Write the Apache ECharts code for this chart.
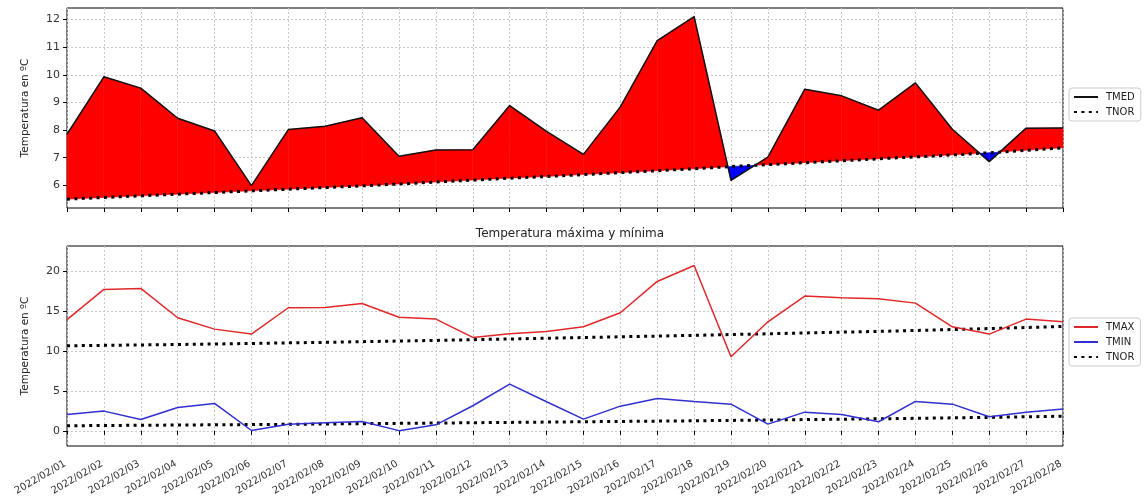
<!DOCTYPE html>
<html>
<head>
<meta charset="utf-8">
<script src="https://cdn.jsdelivr.net/npm/echarts@6/dist/echarts.min.js"></script>
<style>
html,body{margin:0;padding:0;background:#fff;}
#c{width:1144px;height:502px;}
</style>
</head>
<body>
<div id="c"></div>
<script>
const dates = ['2022/02/01','2022/02/02','2022/02/03','2022/02/04','2022/02/05','2022/02/06','2022/02/07','2022/02/08','2022/02/09','2022/02/10','2022/02/11','2022/02/12','2022/02/13','2022/02/14','2022/02/15','2022/02/16','2022/02/17','2022/02/18','2022/02/19','2022/02/20','2022/02/21','2022/02/22','2022/02/23','2022/02/24','2022/02/25','2022/02/26','2022/02/27','2022/02/28'];
const tmed = [7.85,9.93,9.52,8.43,7.97,5.99,8.02,8.14,8.45,7.05,7.28,7.29,8.89,7.95,7.12,8.84,11.24,12.11,6.18,7.02,9.48,9.24,8.72,9.71,8.03,6.86,8.07,8.08];
const tnorMed = [5.50,5.56,5.62,5.68,5.74,5.80,5.86,5.92,5.98,6.05,6.12,6.19,6.26,6.32,6.39,6.46,6.53,6.60,6.68,6.75,6.82,6.89,6.96,7.03,7.10,7.18,7.27,7.36];
const tmax = [13.9,17.67,17.8,14.13,12.71,12.09,15.38,15.42,15.92,14.2,13.96,11.67,12.13,12.42,13.0,14.75,18.67,20.67,9.25,13.63,16.84,16.63,16.5,15.96,13.0,12.09,13.96,13.63];
const tmin = [2.04,2.46,1.42,2.92,3.42,0.04,0.83,1.0,1.17,0.02,0.75,3.13,5.84,3.63,1.46,3.08,4.04,3.67,3.33,0.83,2.33,2.04,1.13,3.67,3.33,1.75,2.33,2.71];
const tnorMax = [10.63,10.68,10.73,10.79,10.85,10.92,10.99,11.06,11.14,11.22,11.30,11.39,11.48,11.57,11.66,11.75,11.84,11.93,12.03,12.13,12.23,12.33,12.43,12.54,12.66,12.78,12.91,13.04];
const tnorMin = [0.63,0.66,0.69,0.72,0.75,0.78,0.81,0.85,0.89,0.93,0.97,1.01,1.05,1.09,1.13,1.17,1.21,1.25,1.30,1.35,1.40,1.45,1.50,1.56,1.62,1.68,1.75,1.82];
const titleText = 'Temperatura máxima y mínima';
const yName = 'Temperatura en ºC';

const FONT = 'DejaVu Sans';
const dotted = {color:'#000', width:3, type:[3,4.4], cap:'butt'};
const grid = {show:true, borderColor:'#000', borderWidth:1, backgroundColor:'transparent'};
function xAxis(idx, showLabels){
  return {
    type:'value', gridIndex:idx, min:0, max:dates.length-1, interval:1,
    axisLine:{show:false},
    axisTick:{show:true, inside:false, length:4, lineStyle:{color:'#000'}},
    axisLabel:{show:showLabels, rotate:30, fontFamily:FONT, fontSize:10, color:'#333', margin:16,
      padding:[0,2,0,0], formatter:v=>dates[v]||''},
    splitLine:{show:true, lineStyle:{color:'#c8c8c8', type:[2,2], width:1}}
  };
}
function yAxis(idx, min, max, split){
  return {
    type:'value', gridIndex:idx, min:min, max:max, splitNumber:split,
    axisLine:{show:false},
    axisTick:{show:true, length:4, lineStyle:{color:'#000'}},
    axisLabel:{fontFamily:FONT, fontSize:11, color:'#333', margin:7, showMinLabel:false, showMaxLabel:false},
    splitLine:{show:true, showMinLine:false, showMaxLine:false, lineStyle:{color:'#c8c8c8', type:[2,2], width:1}},
    name:yName, nameLocation:'middle', nameGap:36, nameRotate:90, nameMoveOverlap:false,
    nameTextStyle:{fontFamily:FONT, fontSize:10.5, color:'#222'}
  };
}

function renderFill(params, api){
  const i = params.dataIndex;
  if (i >= tmed.length-1) return null;
  const a = tmed[i]-tnorMed[i], b = tmed[i+1]-tnorMed[i+1];
  const c = (x,y)=>api.coord([x,y]);
  const shapes = [];
  if (a*b >= 0) {
    const col = (a+b)>=0?'#ff0000':'#0000ff';
    shapes.push({type:'polygon', shape:{points:[c(i,tmed[i]),c(i+1,tmed[i+1]),c(i+1,tnorMed[i+1]),c(i,tnorMed[i])]},
      style:{fill:col, stroke:col, lineWidth:0.5}});
  } else {
    const t = a/(a-b);
    const xc = i+t, yc = tnorMed[i]+t*(tnorMed[i+1]-tnorMed[i]);
    const c1 = a>0?'#ff0000':'#0000ff', c2 = b>0?'#ff0000':'#0000ff';
    shapes.push({type:'polygon', shape:{points:[c(i,tmed[i]),c(xc,yc),c(i,tnorMed[i])]}, style:{fill:c1, stroke:c1, lineWidth:0.5}});
    shapes.push({type:'polygon', shape:{points:[c(xc,yc),c(i+1,tmed[i+1]),c(i+1,tnorMed[i+1])]}, style:{fill:c2, stroke:c2, lineWidth:0.5}});
  }
  return {type:'group', children:shapes};
}

const legendBase = {orient:'vertical', left:1069, itemWidth:24, itemHeight:10, itemGap:5,
  padding:[4,6,4,4], borderColor:'#ccc', borderWidth:1, borderRadius:3, backgroundColor:'#fff',
  itemStyle:{opacity:0}, textStyle:{fontFamily:FONT, fontSize:10, color:'#222', padding:[0,0,0,3]}, selectedMode:false};

const chart = echarts.init(document.getElementById('c'), null, {renderer:'canvas'});
chart.setOption({
  animation:false,
  backgroundColor:'#fff',
  title:{text:titleText, left:565, top:223, textAlign:'center',
    textStyle:{fontFamily:FONT, fontSize:12, fontWeight:'normal', color:'#222'}},
  grid:[
    Object.assign({left:67, right:81, top:8, height:200}, grid),
    Object.assign({left:67, right:81, top:246, height:200}, grid)
  ],
  xAxis:[xAxis(0,false), xAxis(1,true)],
  yAxis:[yAxis(0,5.18,12.42,7), yAxis(1,-1.9,23.1,5)],
  legend:[
    Object.assign({data:['TMED','TNOR'], top:88}, legendBase),
    Object.assign({data:['TMAX','TMIN','TNOR'], top:318}, legendBase)
  ],
  series:[
    {type:'custom', name:'fill', xAxisIndex:0, yAxisIndex:0, renderItem:renderFill, silent:true,
     data:tmed.map((v,i)=>[i,v]), z:1},
    {type:'line', name:'TNOR', xAxisIndex:0, yAxisIndex:0, data:tnorMed.map((v,i)=>[i,v]), symbol:'none',
     lineStyle:dotted, itemStyle:{color:'#000'}, z:3},
    {type:'line', name:'TMED', xAxisIndex:0, yAxisIndex:0, data:tmed.map((v,i)=>[i,v]), symbol:'none',
     lineStyle:{color:'#111', width:1.5}, itemStyle:{color:'#111'}, z:4},
    {type:'line', name:'TMAX', xAxisIndex:1, yAxisIndex:1, data:tmax.map((v,i)=>[i,v]), symbol:'none',
     lineStyle:{color:'#e0282a', width:1.5}, itemStyle:{color:'#e0282a'}, z:4},
    {type:'line', name:'TMIN', xAxisIndex:1, yAxisIndex:1, data:tmin.map((v,i)=>[i,v]), symbol:'none',
     lineStyle:{color:'#3030d0', width:1.5}, itemStyle:{color:'#3030d0'}, z:4},
    {type:'line', name:'TNOR', xAxisIndex:1, yAxisIndex:1, data:tnorMax.map((v,i)=>[i,v]), symbol:'none',
     lineStyle:dotted, itemStyle:{color:'#000'}, z:3},
    {type:'line', name:'TNOR', xAxisIndex:1, yAxisIndex:1, data:tnorMin.map((v,i)=>[i,v]), symbol:'none',
     lineStyle:dotted, itemStyle:{color:'#000'}, z:3}
  ]
});
</script>
</body>
</html>
